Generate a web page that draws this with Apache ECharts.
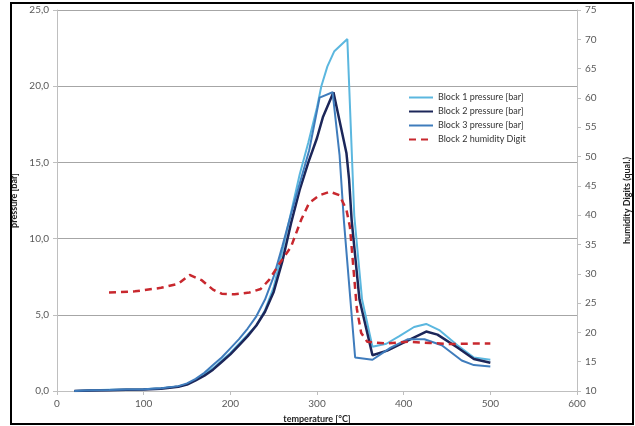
<!DOCTYPE html>
<html>
<head>
<meta charset="utf-8">
<style>
  html, body { margin: 0; padding: 0; background: #fff; }
  #chart { width: 635px; height: 426px; }
</style>
</head>
<body>
<div id="chart"></div>
<script src="https://cdn.jsdelivr.net/npm/echarts@6/dist/echarts.min.js"></script>
<script>
// temperature [°C] and values
var block1T = [20,40,60,80,100,120,140,150,160,170,180,190,200,210,220,230,240,250,260,270,280,290,300,305,312,320,335,343,352,364,380,395,412,426,441,462,481,500];
var block1P = [0,0.05,0.08,0.1,0.12,0.18,0.3,0.45,0.75,1.1,1.5,2.0,2.5,3.1,3.7,4.3,5.3,6.8,9.2,11.7,14.2,16.3,18.6,20.0,21.3,22.3,23.1,11.5,6.0,2.9,3.1,3.6,4.2,4.4,4.0,3.0,2.2,2.05];

var block2T = [20,40,60,80,100,120,140,150,160,170,180,190,200,210,220,230,240,250,260,270,280,290,300,307,319,334,337,340,349,364,381,401,426,439,462,481,500];
var block2P = [0,0.03,0.05,0.08,0.1,0.15,0.28,0.42,0.7,1.0,1.4,1.9,2.4,3.0,3.6,4.3,5.2,6.5,8.5,11.0,13.2,15.0,16.6,18.0,19.6,15.6,13.9,11.2,6.0,2.35,2.65,3.2,3.9,3.7,2.85,2.1,1.85];

var block3T = [20,40,60,80,100,120,140,150,160,170,180,190,200,210,220,230,240,250,260,270,280,291,303,318,326,331,344,364,385,405,424,444,467,481,500];
var block3P = [0,0.05,0.07,0.1,0.12,0.18,0.32,0.5,0.8,1.2,1.7,2.2,2.8,3.4,4.1,4.9,6.0,7.5,9.5,11.6,13.6,15.8,19.25,19.6,15.5,11.2,2.2,2.05,2.85,3.4,3.4,3.0,2.0,1.7,1.6];

var humT = [60,90,120,140,153,167,180,190,205,222,235,245,257,270,282,291,303,315,326,334,338,342,346,351,358,380,405,430,455,480,500];
var humH = [26.8,27.0,27.6,28.3,29.8,28.9,27.3,26.6,26.5,26.8,27.4,29.0,31.8,34.6,39.3,42.1,43.4,44.0,43.4,40.9,38.0,31.0,24.0,19.9,18.4,18.1,18.4,18.2,18.0,18.1,18.1];

var seriesNames = ['Block 1 pressure [bar]', 'Block 2 pressure [bar]', 'Block 3 pressure [bar]', 'Block 2 humidity Digit'];

function pairs(xs, ys) {
  return xs.map(function (x, i) { return [x, ys[i]]; });
}

var font = 'Lato, "Open Sans", sans-serif';
var labelStyle = { color: '#595959', fontSize: 10, fontFamily: font };
var nameStyle = { color: '#222', fontSize: 9, fontWeight: 'bold', fontFamily: font };

var myChart = echarts.init(document.getElementById('chart'));
var option = {
  animation: false,
  backgroundColor: '#fff',
  grid: { left: 57, right: 58, top: 10, bottom: 35, outerBoundsMode: 'none' },
  legend: {
    orient: 'vertical',
    left: 403,
    top: 88,
    itemWidth: 24,
    itemHeight: 10,
    itemGap: 5,
    itemStyle: { opacity: 0 },
    textStyle: { color: '#333', fontSize: 9, fontFamily: font },
    data: seriesNames
  },
  xAxis: {
    type: 'value',
    min: 0, max: 600, interval: 100,
    name: 'temperature [°C]',
    nameLocation: 'middle',
    nameGap: 24,
    nameTextStyle: nameStyle,
    axisLine: { lineStyle: { color: '#bfbfbf' } },
    axisTick: { show: true, length: 4, lineStyle: { color: '#bfbfbf' } },
    axisLabel: labelStyle,
    splitLine: { show: false }
  },
  yAxis: [
    {
      type: 'value',
      min: 0, max: 25, interval: 5,
      name: 'pressure [bar]',
      nameLocation: 'middle',
      nameRotate: 90,
      nameGap: 32,
      nameTextStyle: nameStyle,
      axisLine: { show: true, lineStyle: { color: '#bfbfbf' } },
      axisTick: { show: true, length: 4, lineStyle: { color: '#bfbfbf' } },
      axisLabel: Object.assign({ formatter: function (v) { return v.toFixed(1).replace('.', ','); } }, labelStyle),
      splitLine: { show: true, lineStyle: { color: '#a6a6a6' } }
    },
    {
      type: 'value',
      min: 10, max: 75, interval: 5,
      position: 'right',
      name: 'humidity Digits (qual.)',
      nameLocation: 'middle',
      nameRotate: 90,
      nameGap: 46,
      nameTextStyle: nameStyle,
      axisLine: { show: true, lineStyle: { color: '#bfbfbf' } },
      axisTick: { show: true, length: 4, lineStyle: { color: '#bfbfbf' } },
      axisLabel: labelStyle,
      splitLine: { show: false }
    }
  ],
  graphic: [
    {
      type: 'rect',
      shape: { x: 11, y: 3, width: 622, height: 421 },
      style: { fill: 'none', stroke: '#000', lineWidth: 2 },
      silent: true,
      z: 100
    }
  ],
  series: [
    {
      name: seriesNames[0], type: 'line', symbol: 'none',
      data: pairs(block1T, block1P),
      lineStyle: { color: '#5bb7df', width: 2 }, itemStyle: { color: '#5bb7df' }
    },
    {
      name: seriesNames[1], type: 'line', symbol: 'none',
      data: pairs(block2T, block2P),
      lineStyle: { color: '#1c2659', width: 2.5 }, itemStyle: { color: '#1c2659' }
    },
    {
      name: seriesNames[2], type: 'line', symbol: 'none',
      data: pairs(block3T, block3P),
      lineStyle: { color: '#3f7cbc', width: 2 }, itemStyle: { color: '#3f7cbc' }
    },
    {
      name: seriesNames[3], type: 'line', symbol: 'none', yAxisIndex: 1,
      data: pairs(humT, humH),
      lineStyle: { color: '#c8282e', width: 2.5, type: [7, 5] }, itemStyle: { color: '#c8282e' }
    }
  ]
};
myChart.setOption(option);
</script>
</body>
</html>
